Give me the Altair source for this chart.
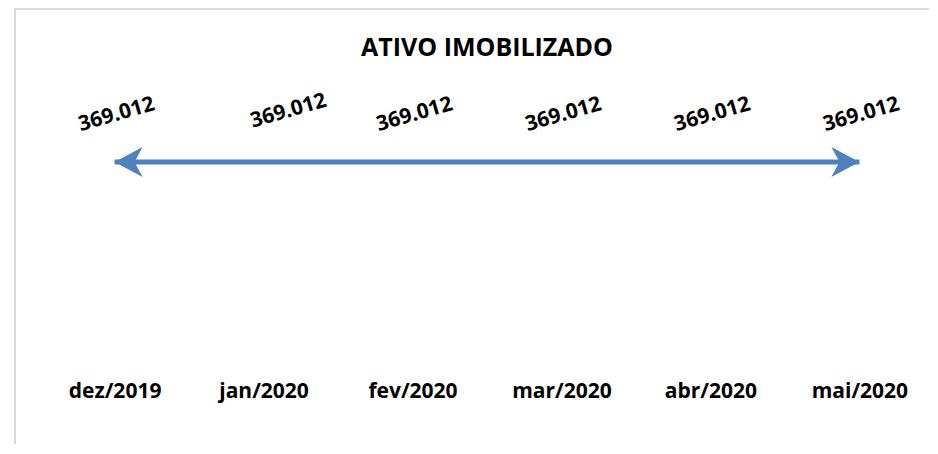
import altair as alt
import pandas as pd

months = ["dez/2019", "jan/2020", "fev/2020", "mar/2020", "abr/2020", "mai/2020"]
values = [369012, 369012, 369012, 369012, 369012, 369012]
title_text = "ATIVO IMOBILIZADO"

df = pd.DataFrame({"mes": months, "valor": values})
df["rotulo"] = [f"{v:,}".replace(",", ".") for v in values]

W, H = 864, 280
BLUE = "#4F81BD"
FONT = "Open Sans"

x_enc = alt.X("mes:N", sort=months,
              scale=alt.Scale(type="point", padding=0.4),
              axis=alt.Axis(title=None, labelAngle=0, domain=False, ticks=False,
                            labelFontSize=21, labelFont=FONT, labelFontWeight="bold",
                            labelColor="black", labelPadding=22, grid=False))
y_enc = alt.Y("valor:Q", scale=alt.Scale(domain=[0, 527160]), axis=None)

base = alt.Chart(df)

line = base.mark_line(color=BLUE, strokeWidth=5).encode(x=x_enc, y=y_enc)

left_arrow = base.transform_filter(alt.datum.mes == months[0]).mark_point(
    shape="M 0 0 L 1.87 -1 L 1.33 0 L 1.87 1 Z", size=900, filled=True,
    color=BLUE, opacity=1).encode(x=x_enc, y=y_enc)
right_arrow = base.transform_filter(alt.datum.mes == months[-1]).mark_point(
    shape="M 0 0 L -1.87 -1 L -1.33 0 L -1.87 1 Z", size=900, filled=True,
    color=BLUE, opacity=1).encode(x=x_enc, y=y_enc)

labels = base.transform_filter(alt.datum.mes != months[1]).mark_text(
    font=FONT, fontSize=21, fontWeight="bold", color="black", angle=344,
    align="center", baseline="middle", dx=15, dy=-45).encode(
    x=x_enc, y=y_enc, text="rotulo:N")
label_jan = base.transform_filter(alt.datum.mes == months[1]).mark_text(
    font=FONT, fontSize=21, fontWeight="bold", color="black", angle=344,
    align="center", baseline="middle", dx=38, dy=-42).encode(
    x=x_enc, y=y_enc, text="rotulo:N")

frame_df = pd.DataFrame({"k": [0]})
frame_top = alt.Chart(frame_df).mark_rule(color="#d9d9d9", strokeWidth=2).encode(
    x=alt.value(-40), x2=alt.value(W + 10), y=alt.value(-69))
frame_left = alt.Chart(frame_df).mark_rule(color="#d9d9d9", strokeWidth=2).encode(
    x=alt.value(-40), y=alt.value(-70), y2=alt.value(H + 86))

chart = alt.layer(frame_top, frame_left, line, left_arrow, right_arrow, labels, label_jan).properties(
    width=W, height=H,
    background="white",
    title=alt.TitleParams(title_text, font=FONT, fontSize=25, fontWeight="bold",
                          color="black", anchor="middle", offset=-54),
    autosize=alt.AutoSizeParams(type="none"),
    padding={"left": 47, "top": 70, "right": 10, "bottom": 86},
).configure_view(strokeWidth=0, stroke="transparent")

chart.save("out.html", embed_options={"renderer": "svg", "actions": False})
